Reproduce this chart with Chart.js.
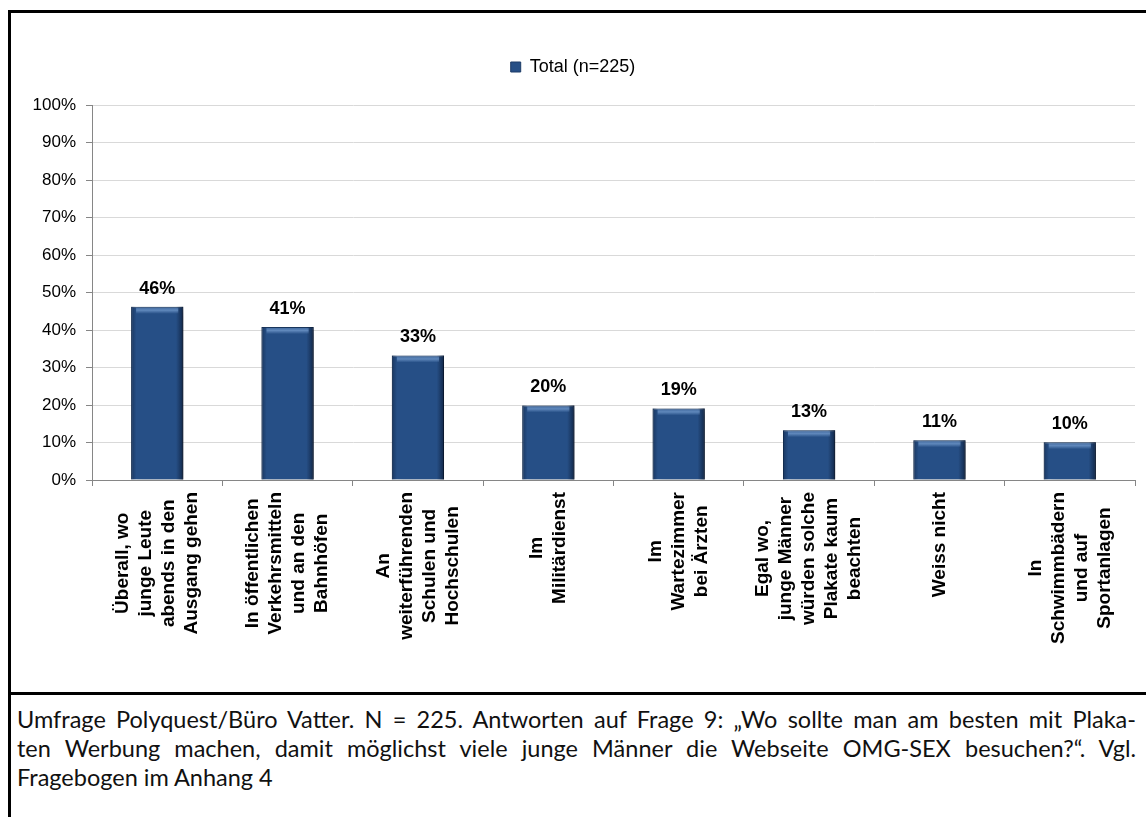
<!DOCTYPE html>
<html lang="de">
<head>
    <meta charset="UTF-8">
    <title>Umfrage Plakatwerbung</title>
    <style>
        html, body { margin: 0; padding: 0; background: #fff; overflow: hidden; }
        body { width: 1146px; height: 817px; position: relative; }
        #frame { position: absolute; left: 8px; top: 10px; width: 1200px; height: 900px; border: 3px solid #000; box-sizing: border-box; }
        #divider { position: absolute; left: 8px; top: 692px; width: 1200px; border-top: 3px solid #000; }
        #chart-container { position: absolute; left: 11px; top: 13px; width: 1135px; height: 679px; }
        #caption { position: absolute; left: 17px; top: 705px; width: 1119px; font-family: Lato, "Open Sans", sans-serif; font-size: 23.5px; line-height: 29px; color: #111; }
        #caption .j { text-align: justify; text-align-last: justify; }
    </style>
</head>
<body>
    <div id="frame"></div>
    <div id="chart-container">
        <canvas id="resultChart"></canvas>
    </div>
    <div id="divider"></div>
    <div id="caption">
        <div class="j">Umfrage Polyquest/Büro Vatter. N = 225. Antworten auf Frage 9: „Wo sollte man am besten mit Plaka-</div>
        <div class="j">ten Werbung machen, damit möglichst viele junge Männer die Webseite OMG-SEX besuchen?“. Vgl.</div>
        <div>Fragebogen im Anhang 4</div>
    </div>

    <script src="https://cdn.jsdelivr.net/npm/chart.js"></script>
    <script>
        // categories (each entry = lines of the rotated label)
        const categories = [
            ['Überall, wo', 'junge Leute', 'abends in den', 'Ausgang gehen'],
            ['In öffentlichen', 'Verkehrsmitteln', 'und an den', 'Bahnhöfen'],
            ['An', 'weiterführenden', 'Schulen und', 'Hochschulen'],
            ['Im', 'Militärdienst'],
            ['Im', 'Wartezimmer', 'bei Ärzten'],
            ['Egal wo,', 'junge Männer', 'würden solche', 'Plakate kaum', 'beachten'],
            ['Weiss nicht'],
            ['In', 'Schwimmbädern', 'und auf', 'Sportanlagen']
        ];
        const totalValues = [46.2, 40.8, 33.2, 19.9, 19.1, 13.3, 10.6, 10.1];
        const seriesName = 'Total (n=225)';
        const yTicks = [0, 10, 20, 30, 40, 50, 60, 70, 80, 90, 100];

        const FONT = '"Liberation Sans", Arial, sans-serif';
        const BAR = '#264f86';

        // extra gap under the legend
        const legendGap = {
            id: 'legendGap',
            beforeLayout(chart) {
                const lg = chart.legend;
                if (lg && !lg._gapPatched) {
                    const fit = lg.fit;
                    lg.fit = function() { fit.call(this); this.height += 19; };
                    lg._gapPatched = true;
                }
            }
        };

        // shadow behind the bars
        const shadowPlugin = {
            id: 'barShadow',
            beforeDatasetsDraw(chart) {
                const ctx = chart.ctx;
                ctx.save();
                ctx.shadowColor = 'rgba(0,0,0,0.45)';
                ctx.shadowBlur = 7;
                ctx.shadowOffsetX = 4;
                ctx.shadowOffsetY = 2;
            },
            afterDatasetsDraw(chart) {
                chart.ctx.restore();
            }
        };

        // bevel look + value labels
        const bevelPlugin = {
            id: 'bevel',
            afterDatasetsDraw(chart) {
                const ctx = chart.ctx;
                const meta = chart.getDatasetMeta(0);
                meta.data.forEach(function(bar, i) {
                    const left = bar.x - bar.width / 2;
                    const top = bar.y;
                    const h = bar.base - bar.y;
                    const w = bar.width;
                    ctx.save();
                    const g = ctx.createLinearGradient(left, 0, left + w, 0);
                    g.addColorStop(0, 'rgba(10,25,50,0.45)');
                    g.addColorStop(0.1, 'rgba(10,25,50,0)');
                    g.addColorStop(0.86, 'rgba(10,25,50,0)');
                    g.addColorStop(1, 'rgba(5,15,35,0.65)');
                    ctx.fillStyle = g;
                    ctx.fillRect(left, top, w, h);
                    // top highlight strip
                    const hg = ctx.createLinearGradient(0, top, 0, top + 7);
                    hg.addColorStop(0, 'rgba(120,160,210,0.25)');
                    hg.addColorStop(0.5, 'rgba(120,160,210,0.7)');
                    hg.addColorStop(1, 'rgba(120,160,210,0)');
                    ctx.fillStyle = hg;
                    ctx.fillRect(left + 5, top + 1, w - 10, 7);
                    ctx.restore();

                    ctx.save();
                    ctx.fillStyle = '#000';
                    ctx.font = 'bold 18px ' + FONT;
                    ctx.textAlign = 'center';
                    ctx.textBaseline = 'bottom';
                    ctx.fillText(Math.round(totalValues[i]) + '%', bar.x, bar.y - 9);
                    ctx.restore();
                });
            }
        };

        // rotated multi-line category labels, lines centred in their block
        const xLabelPlugin = {
            id: 'xLabels',
            afterDraw(chart) {
                const ctx = chart.ctx;
                const xs = chart.scales.x;
                const lh = 23;
                ctx.save();
                ctx.font = 'bold 19px ' + FONT;
                ctx.fillStyle = '#000';
                ctx.textAlign = 'center';
                ctx.textBaseline = 'middle';
                categories.forEach(function(lines, i) {
                    const x = xs.getPixelForValue(i);
                    const top = xs.top + 12;
                    let maxW = 0;
                    lines.forEach(function(l) { maxW = Math.max(maxW, ctx.measureText(l).width); });
                    ctx.save();
                    ctx.translate(x, top);
                    ctx.rotate(-Math.PI / 2);
                    lines.forEach(function(l, j) {
                        ctx.fillText(l, -maxW / 2, (j - (lines.length - 1) / 2) * lh);
                    });
                    ctx.restore();
                });
                ctx.restore();
            }
        };

        const ctx = document.getElementById('resultChart').getContext('2d');
        new Chart(ctx, {
            type: 'bar',
            data: {
                labels: categories.map(function(c) { return c.join(' '); }),
                datasets: [{
                    label: seriesName,
                    data: totalValues,
                    backgroundColor: BAR,
                    borderColor: '#1d3d68',
                    borderWidth: 1,
                    categoryPercentage: 0.8,
                    barPercentage: 0.5
                }]
            },
            options: {
                responsive: true,
                maintainAspectRatio: false,
                animation: false,
                layout: { padding: { top: 17, right: 11, left: 0, bottom: 0 } },
                plugins: {
                    legend: {
                        position: 'top',
                        labels: {
                            boxWidth: 10,
                            boxHeight: 10,
                            padding: 28,
                            color: '#000',
                            font: { family: FONT, size: 18 }
                        }
                    },
                    tooltip: { enabled: false }
                },
                scales: {
                    x: {
                        grid: { drawOnChartArea: false, drawTicks: true, tickLength: 6, tickColor: '#868686', offset: true },
                        border: { color: '#868686' },
                        ticks: { display: false },
                        afterFit(scale) { scale.height = 212; }
                    },
                    y: {
                        min: 0,
                        max: 100,
                        afterBuildTicks(scale) { scale.ticks = yTicks.map(function(v) { return { value: v }; }); },
                        grid: { color: '#d9d9d9', tickColor: '#868686', tickLength: 6 },
                        border: { color: '#868686' },
                        ticks: {
                            padding: 10,
                            color: '#000',
                            font: { family: FONT, size: 17 },
                            callback: function(v) { return v + '%'; }
                        },
                        afterFit(scale) { scale.width = 81; }
                    }
                }
            },
            plugins: [legendGap, shadowPlugin, bevelPlugin, xLabelPlugin]
        });
    </script>
</body>
</html>
